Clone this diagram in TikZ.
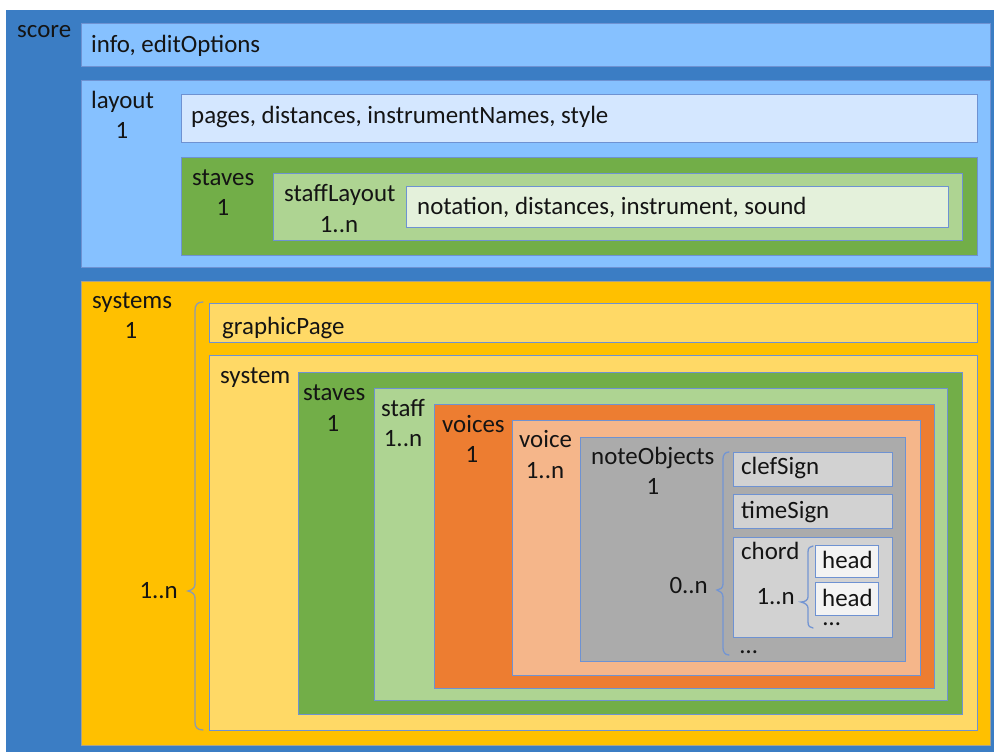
\documentclass[tikz,border=0pt]{standalone}
\usepackage{fontspec}
\setmainfont{Carlito}
\definecolor{scoreblue}{HTML}{3B7DC4}
\definecolor{lblue}{HTML}{86C1FF}
\definecolor{paleblue}{HTML}{D4E7FF}
\definecolor{dgreen}{HTML}{72AE48}
\definecolor{lgreen}{HTML}{AED492}
\definecolor{palegreen}{HTML}{E4F1DB}
\definecolor{gold}{HTML}{FFC000}
\definecolor{lgold}{HTML}{FFD966}
\definecolor{orange}{HTML}{ED7D31}
\definecolor{lorange}{HTML}{F5B68A}
\definecolor{dgray}{HTML}{ABABAB}
\definecolor{lgray}{HTML}{D2D2D2}
\definecolor{headfill}{HTML}{F3F3F3}
\definecolor{boxline}{HTML}{6E92D2}
\definecolor{sysline}{HTML}{A9A28A}
\definecolor{braceA}{HTML}{8C9BB0}
\definecolor{braceB}{HTML}{7395D3}
\definecolor{txt}{HTML}{141414}
\begin{document}
\begin{tikzpicture}[x=1pt,y=-1pt,
  bx/.style={draw=boxline, line width=1pt},
  lbl/.style={anchor=base west, inner sep=0pt, text=txt, font=\fontsize{24.9}{29}\selectfont},
  num/.style={anchor=base, inner sep=0pt, text=txt, font=\fontsize{24.9}{29}\selectfont},
  numr/.style={anchor=base east, inner sep=0pt, text=txt, font=\fontsize{24.9}{29}\selectfont},
  dotsstyle/.style={lbl, text height=4pt, text depth=0pt},
  headstyle/.style={lbl, text depth=0pt},
  bracestyle/.style={line width=1.3pt, line cap=round}]
\useasboundingbox (0,0) rectangle (994,752);
\fill[white] (0,0) rectangle (994,752);
\fill[scoreblue] (6,10) rectangle (994,752);
% boxes
\draw[bx, fill=lblue] (81,24) rectangle (990,67);
\draw[bx, fill=lblue] (81,81) rectangle (990,267);
\draw[bx, fill=paleblue] (181,95) rectangle (977,142);
\draw[bx, fill=dgreen] (181,157) rectangle (977,255);
\draw[bx, fill=lgreen] (273,173) rectangle (962,240);
\draw[bx, fill=palegreen] (406,186) rectangle (948,227);
\draw[bx, draw=sysline, fill=gold] (81,281) rectangle (990,745);
\draw[bx, fill=lgold] (209,303) rectangle (977,342);
\draw[bx, fill=lgold] (209,355) rectangle (977,730);
\draw[bx, fill=dgreen] (298,372) rectangle (962,714);
\draw[bx, fill=lgreen] (374,388) rectangle (947,700);
\draw[bx, fill=orange] (434,404) rectangle (934,688);
\draw[bx, fill=lorange] (512,420) rectangle (920,675);
\draw[bx, fill=dgray] (580,437) rectangle (905,661);
\draw[bx, fill=lgray] (733,452) rectangle (892,486);
\draw[bx, fill=lgray] (733,494) rectangle (892,528);
\draw[bx, fill=lgray] (733,537) rectangle (892,637);
\draw[bx, fill=headfill] (815,545) rectangle (878,577);
\draw[bx, fill=headfill] (815,582) rectangle (878,615);
% braces
\draw[bracestyle, draw=braceA] (203,302) .. controls (197,302) and (195,305) .. (195,311) -- (195,584) .. controls (195,588) and (192,590) .. (188,591) .. controls (192,592) and (195,594) .. (195,598) -- (195,722) .. controls (195,727) and (197,730) .. (203,730);
\draw[bracestyle, draw=braceB] (729,452) .. controls (725,452) and (723,455) .. (723,459) -- (723,584) .. controls (723,588) and (720,590) .. (717,590) .. controls (720,591) and (723,593) .. (723,597) -- (723,648) .. controls (723,652) and (725,655) .. (729,655);
\draw[bracestyle, draw=braceB] (813,546) .. controls (810,546) and (808,548) .. (808,552) -- (808,597) .. controls (808,600) and (805,602) .. (801,602) .. controls (805,603) and (808,605) .. (808,608) -- (808,622) .. controls (808,626) and (810,628) .. (813,628);
% labels
\node[lbl] (tscore) at (17,38) {score};
\node[lbl] (tinfo) at (91,53) {info, editOptions};
\node[lbl] (tlayout) at (91,109) {layout};
\node[num] (tlayoutn) at (122,139) {1};
\node[lbl] (tpages) at (191,124) {pages, distances, instrumentNames, style};
\node[lbl] (tstavesA) at (192,185) {staves};
\node[num] (tstavesAn) at (223,215) {1};
\node[lbl] (tstaffLayout) at (284,201) {staffLayout};
\node[num] (tstaffLayoutn) at (339,232) {1..n};
\node[lbl] (tnotation) at (417,214) {notation, distances, instrument, sound};
\node[lbl] (tsystems) at (92,308) {systems};
\node[num] (tsystemsn) at (131,338) {1};
\node[lbl] (tgraphic) at (222,334) {graphicPage};
\node[lbl] (tsystem) at (220,383) {system};
\node[numr] (tsystemn) at (178,598) {1..n};
\node[lbl] (tstavesB) at (303,400) {staves};
\node[num] (tstavesBn) at (333,431) {1};
\node[lbl] (tstaff) at (381,416) {staff};
\node[num] (tstaffn) at (403,446) {1..n};
\node[lbl] (tvoices) at (442,432) {voices};
\node[num] (tvoicesn) at (472,462) {1};
\node[lbl] (tvoice) at (519,447) {voice};
\node[num] (tvoicen) at (545,478) {1..n};
\node[lbl] (tnote) at (591,464) {noteObjects};
\node[num] (tnoten) at (653,494) {1};
\node[numr] (tnoteobj) at (708,593) {0..n};
\node[lbl] (tclef) at (741,474) {clefSign};
\node[lbl] (ttime) at (741,518) {timeSign};
\node[lbl] (tchord) at (741,559) {chord};
\node[numr] (tchordn) at (795,604) {1..n};
\node[headstyle] (thead1) at (822,568) {head};
\node[headstyle] (thead2) at (822,606) {head};
\node[dotsstyle] (tdotsA) at (823,625) {…};
\node[dotsstyle] (tdotsB) at (740,653) {…};
\end{tikzpicture}
\end{document}
